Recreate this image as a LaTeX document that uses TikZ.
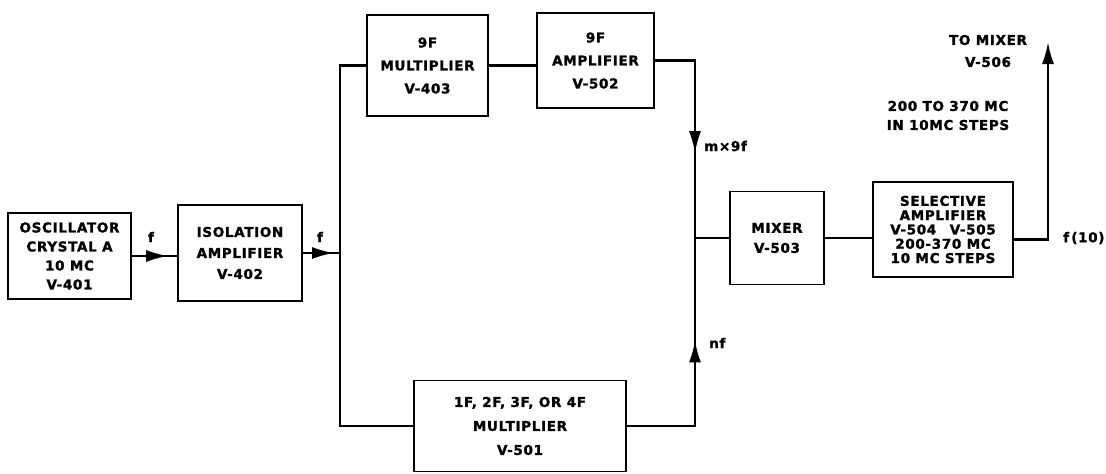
\documentclass[tikz,border=0pt]{standalone}
\usepackage{fontspec}
\newfontfamily\lbl{DejaVu Sans}[LetterSpace=5,FakeBold=1.5]
\usetikzlibrary{arrows.meta,decorations.markings}
\tikzset{
  box/.style={draw, line width=1.8pt, align=center, inner sep=0pt,
    font=\lbl\bfseries\fontsize{13.5}{#1}\selectfont},
  box/.default=21,
  wire/.style={line width=2.2pt},
  tip/.style={-{Latex[length=22pt,width=12pt]}},
  midarrow/.style={postaction={decorate}, decoration={markings,
    mark=at position #1 with {\arrow{Latex[length=22pt,width=12pt]}}}},
  lab/.style={font=\lbl\bfseries\fontsize{13.5}{#1}\selectfont, align=center, inner sep=0pt},
  lab/.default=14
}
\begin{document}
\begin{tikzpicture}[x=1pt,y=-1pt]
\useasboundingbox (0,0) rectangle (1106,474);
% boxes
\node[box=19, minimum width=123pt, minimum height=86pt] (osc) at (69.5,256) {OSCILLATOR\\CRYSTAL A\\10 MC\\V-401};
\node[box=21, minimum width=124pt, minimum height=96pt] (iso) at (240,253) {ISOLATION\\AMPLIFIER\\V-402};
\node[box=23, minimum width=121pt, minimum height=101pt] (mul9) at (427.5,65.5) {9F\\MULTIPLIER\\V-403};
\node[box=23, minimum width=117pt, minimum height=95pt] (amp9) at (595.5,60.5) {9F\\AMPLIFIER\\V-502};
\node[box=24, minimum width=212pt, minimum height=91pt] (m501) at (520,426) {1F, 2F, 3F, OR 4F\\MULTIPLIER\\V-501};
\node[box=20, minimum width=94pt, minimum height=93pt] (mix) at (777,238) {MIXER\\V-503};
\node[box=14.3, minimum width=140pt, minimum height=95pt] (sel) at (943,229.5) {SELECTIVE\\AMPLIFIER\\V-504\quad V-505\\200-370 MC\\10 MC STEPS};
% junctions
\coordinate (J1) at (340,253);
\coordinate (J2) at (695,238);
\coordinate (out) at (1048,42);
% connectors
\draw[wire, midarrow=0.8] (osc.east) -- (osc.east -| iso.west);
\draw[wire, midarrow=0.84] (iso.east) -- (J1);
\draw[wire] (mul9.west) -| (J1) |- (m501.west);
\draw[wire] (mul9.east) -- (mul9.east -| amp9.west);
\draw[wire, midarrow=0.61] (amp9.east) -| (J2);
\draw[wire, midarrow=0.6] (m501.east) -| (J2);
\draw[wire] (J2) -- (mix.west);
\draw[wire] (mix.east) -- (mix.east -| sel.west);
\draw[wire, tip] ([yshift=-10pt]sel.east) -| (out);
% labels
\node[lab] (lf1) at (151,237) {f};
\node[lab] (lf2) at (320,237) {f};
\node[lab, anchor=west] (lm) at (704,146) {m×9f};
\node[lab, anchor=west] (ln) at (709,343) {nf};
\node[lab, anchor=west] (lo) at (1063,238) {f\,(10)};
\node[lab=22] (lto) at (988,51) {TO MIXER\\V-506};
\node[lab=19] (lrng) at (948,115.5) {200 TO 370 MC\\IN 10MC STEPS};
\end{tikzpicture}
\end{document}
